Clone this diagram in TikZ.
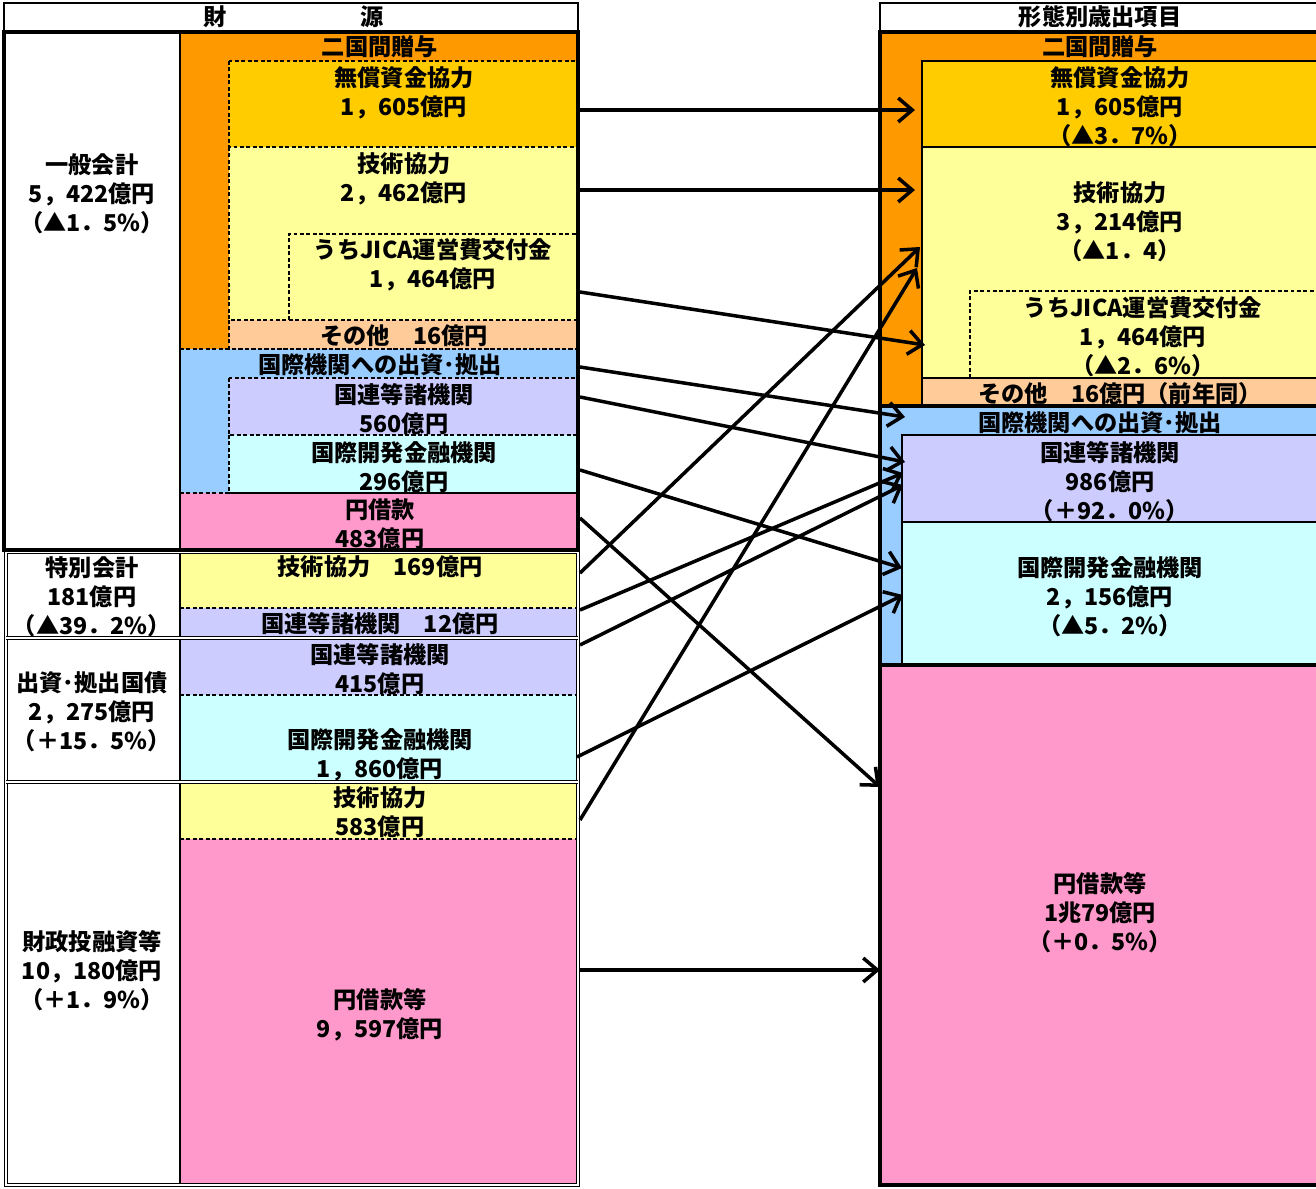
\documentclass[tikz,border=0pt]{standalone}
\usepackage{fontspec}
\setmainfont{Noto Sans CJK JP}
\usetikzlibrary{arrows.meta}
\definecolor{cOrange}{HTML}{FF9900}
\definecolor{cGold}{HTML}{FFCC00}
\definecolor{cYellow}{HTML}{FFFF99}
\definecolor{cPeach}{HTML}{FFCC99}
\definecolor{cBlue}{HTML}{99CCFF}
\definecolor{cLav}{HTML}{CCCCFF}
\definecolor{cCyan}{HTML}{CCFFFF}
\definecolor{cPink}{HTML}{FF99CC}
\begin{document}
\begin{tikzpicture}[x=0.025cm,y=-0.025cm,
  txt/.style={inner sep=0pt, align=center, font=\fontsize{16.5pt}{20.6pt}\selectfont\bfseries},
  thinl/.style={line width=0.8pt},
  dsh/.style={line width=0.8pt, dash pattern=on 2.8pt off 1.8pt},
  thk/.style={line width=2.6pt},
  dbl/.style={draw=black, line width=0.6pt, double, double distance=2pt},
  arr/.style={line width=2.5pt, -{Straight Barb[length=10pt,width=17pt,line width=2.5pt]}}]
\useasboundingbox (0,0) rectangle (1316,1189);
\clip (0,0) rectangle (1316,1189);
\fill[white] (0,0) rectangle (1316,1189);

% ===== left: sources =====
\draw[line width=1.6pt] (4,3) rectangle (578,31);
\node[txt] (hL) at (293.5,17) {財\hspace{5.75em}源};

\fill[cOrange] (180,32) rectangle (578,349);
\fill[cGold] (229,61) rectangle (578,147);
\fill[cYellow] (229,147) rectangle (578,320);
\fill[cPeach] (229,320) rectangle (578,349);
\fill[cBlue] (180,349) rectangle (578,493);
\fill[cLav] (229,378) rectangle (578,435);
\fill[cCyan] (229,435) rectangle (578,493);
\fill[cPink] (180,493) rectangle (578,550);
\draw[dsh] (229,61) rectangle (578,147);
\draw[dsh] (229,147) -- (229,320);
\draw[dsh] (289,320) -- (289,234) -- (578,234);
\draw[dsh] (229,320) rectangle (578,349);
\draw[dsh] (229,378) rectangle (578,435);
\draw[dsh] (229,435) rectangle (578,493);
\draw[dsh] (180,349) -- (578,349);
\draw[dsh] (180,493) -- (578,493);
\draw[thinl] (180,32) -- (180,550);

\fill[cYellow] (180,550) rectangle (578,608);
\fill[cLav] (180,608) rectangle (578,637);
\fill[cLav] (180,639) rectangle (578,695);
\fill[cCyan] (180,695) rectangle (578,781);
\fill[cYellow] (180,783) rectangle (578,839);
\fill[cPink] (180,839) rectangle (578,1185);
\draw[dsh] (180,608) -- (578,608);
\draw[dsh] (180,695) -- (578,695);
\draw[dsh] (180,839) -- (578,839);
\draw[thinl] (180,550) -- (180,1185);
\draw[dbl] (6,552) rectangle (578,1185);
\draw[dbl] (6,638) -- (578,638);
\draw[dbl] (6,782) -- (578,782);
\draw[thk] (4,32) rectangle (578,550);

\node[txt] (gen) at (92,193.5) {一般会計\\5，422億円\\（▲1．5\%）};
\node[txt] (lBil) at (380,47) {二国間贈与};
\node[txt] (lGrant) at (404,92.5) {無償資金協力\\1，605億円};
\node[txt] (lTech) at (404,178.5) {技術協力\\2，462億円};
\node[txt] (lJica) at (433,264.5) {うちJICA運営費交付金\\1，464億円};
\node[txt] (lOther) at (404,336) {その他　16億円};
\node[txt] (lIntl) at (380,365) {国際機関への出資･拠出};
\node[txt] (lUN) at (404,409.5) {国連等諸機関\\560億円};
\node[txt] (lMDB) at (404,467) {国際開発金融機関\\296億円};
\node[txt] (lLoan) at (380,524.5) {円借款\\483億円};

\node[txt] (spec) at (92,596.5) {特別会計\\181億円\\（▲39．2\%）};
\node[txt] (sTech) at (380,567) {技術協力　169億円};
\node[txt] (sUN) at (380,624) {国連等諸機関　12億円};

\node[txt] (bond) at (92,712) {出資･拠出国債\\2，275億円\\（＋15．5\%）};
\node[txt] (bUN) at (380,669) {国連等諸機関\\415億円};
\node[txt] (bMDB) at (380,755) {国際開発金融機関\\1，860億円};

\node[txt] (filp) at (92,971) {財政投融資等\\10，180億円\\（＋1．9\%）};
\node[txt] (fTech) at (380,812.5) {技術協力\\583億円};
\node[txt] (fLoan) at (380,1014.5) {円借款等\\9，597億円};

% ===== right: expenditure =====
\draw[line width=1.6pt] (880,3) rectangle (1320,31);
\node[txt] (hR) at (1100,17) {形態別歳出項目};

\fill[cOrange] (880,32) rectangle (1320,406);
\fill[cGold] (922,61) rectangle (1320,147);
\fill[cYellow] (922,147) rectangle (1320,378);
\fill[cPeach] (922,378) rectangle (1320,406);
\draw[thinl] (922,61) rectangle (1320,147);
\draw[thinl] (922,147) -- (922,406);
\draw[thinl] (922,378) -- (1320,378);
\draw[dsh] (970,378) -- (970,291) -- (1320,291);
\fill[cBlue] (880,406) rectangle (1320,665);
\fill[cLav] (902,435) rectangle (1320,522);
\fill[cCyan] (902,522) rectangle (1320,665);
\draw[thinl] (902,435) rectangle (1320,665);
\draw[thinl] (902,522) -- (1320,522);
\fill[cPink] (880,665) rectangle (1320,1185);
\draw[thk] (880,32) rectangle (1320,406);
\draw[thk] (880,406) rectangle (1320,665);
\draw[thk] (880,665) rectangle (1320,1185);

\node[txt] (rBil) at (1100,47) {二国間贈与};
\node[txt] (rGrant) at (1120,107) {無償資金協力\\1，605億円\\（▲3．7\%）};
\node[txt] (rTech) at (1120,222) {技術協力\\3，214億円\\（▲1．4）};
\node[txt] (rJica) at (1143,337) {うちJICA運営費交付金\\1，464億円\\（▲2．6\%）};
\node[txt] (rOther) at (1120,394) {その他　16億円（前年同）};
\node[txt] (rIntl) at (1100,423) {国際機関への出資･拠出};
\node[txt] (rUN) at (1110,482) {国連等諸機関\\986億円\\（＋92．0\%）};
\node[txt] (rMDB) at (1110,597) {国際開発金融機関\\2，156億円\\（▲5．2\%）};
\node[txt] (rLoan) at (1100,913) {円借款等\\1兆79億円\\（＋0．5\%）};

% ===== arrow end points =====
\coordinate (s1) at (580,110);  \coordinate (e1) at (915,110);
\coordinate (s2) at (580,190);  \coordinate (e2) at (915,190);
\coordinate (s3) at (580,292);  \coordinate (e3) at (925,345);
\coordinate (s4) at (580,367);  \coordinate (e4) at (905,417);
\coordinate (s5) at (580,397);  \coordinate (e5) at (905,462);
\coordinate (s6) at (580,470);  \coordinate (e6) at (902,568);
\coordinate (s7) at (580,518);  \coordinate (e7) at (880,787);
\coordinate (s8) at (580,573);  \coordinate (e8) at (920,247);
\coordinate (s9) at (580,610);  \coordinate (e9) at (903,473);
\coordinate (s10) at (580,645); \coordinate (e10) at (903,485);
\coordinate (s11) at (577,757); \coordinate (e11) at (903,595);
\coordinate (s12) at (580,820); \coordinate (e12) at (917,268);
\coordinate (s13) at (580,970); \coordinate (e13) at (880,970);
\foreach \i in {1,...,13} {\draw[arr] (s\i) -- (e\i);}
\end{tikzpicture}
\end{document}
